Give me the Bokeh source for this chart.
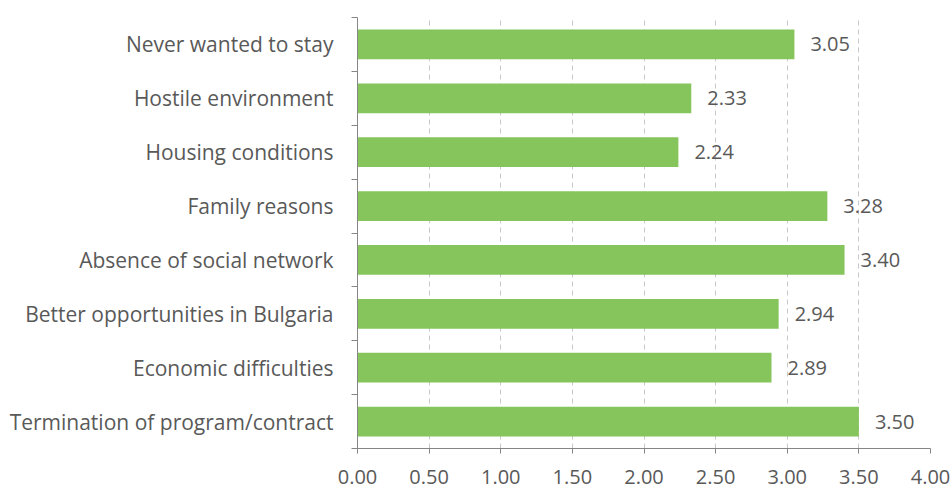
from bokeh.plotting import figure
from bokeh.models import ColumnDataSource, FixedTicker, Range1d, LinearAxis, Grid
from bokeh.embed import file_html
from bokeh.resources import INLINE
from bokeh.core.properties import value

categories = [
    "Termination of program/contract",
    "Economic difficulties",
    "Better opportunities in Bulgaria",
    "Absence of social network",
    "Family reasons",
    "Housing conditions",
    "Hostile environment",
    "Never wanted to stay",
]
scores = [3.50, 2.89, 2.94, 3.40, 3.28, 2.24, 2.33, 3.05]
x_ticks = [0.0, 0.5, 1.0, 1.5, 2.0, 2.5, 3.0, 3.5, 4.0]

FONT = "Open Sans"
TXT = "#595959"
AX = "#868686"

n = len(categories)
ypos = [i + 0.5 for i in range(n)]
src = ColumnDataSource(dict(
    y=ypos, v=scores, lab=[f"{s:.2f}" for s in scores],
))

p = figure(width=952, height=488, output_backend="svg", toolbar_location=None,
           x_range=Range1d(0, 4), y_range=Range1d(0, n),
           x_axis_type=None, y_axis_type=None,
           min_border_left=357, min_border_right=22, min_border_top=17, min_border_bottom=40)
p.outline_line_color = None
p.background_fill_color = "white"
p.border_fill_color = "white"

p.hbar(y="y", right="v", left=0, height=0.55, source=src,
       fill_color="#85C55B", line_color=None)
p.text(x="v", y="y", text="lab", source=src, x_offset=16,
       text_align="left", text_baseline="middle",
       text_font=value(FONT), text_font_size="20px", text_color=TXT)

xaxis = LinearAxis(ticker=FixedTicker(ticks=x_ticks),
                   major_label_overrides={t: f"{t:.2f}" for t in x_ticks})
xaxis.axis_line_color = AX
xaxis.major_tick_line_color = AX
xaxis.major_tick_out = 5
xaxis.major_tick_in = 0
xaxis.minor_tick_line_color = None
xaxis.major_label_text_font = FONT
xaxis.major_label_text_font_size = "20px"
xaxis.major_label_text_color = TXT
xaxis.major_label_standoff = 16
p.add_layout(xaxis, "below")

yaxis = LinearAxis(ticker=FixedTicker(ticks=ypos, minor_ticks=list(range(n + 1))),
                   major_label_overrides={y: c for y, c in zip(ypos, categories)})
yaxis.axis_line_color = AX
yaxis.major_tick_line_color = None
yaxis.minor_tick_line_color = AX
yaxis.minor_tick_out = 6
yaxis.minor_tick_in = 0
yaxis.major_label_text_font = FONT
yaxis.major_label_text_font_size = "21px"
yaxis.major_label_text_color = TXT
yaxis.major_label_standoff = 18
p.add_layout(yaxis, "left")

g = Grid(dimension=0, ticker=FixedTicker(ticks=x_ticks[1:]))
g.grid_line_color = "#C8C8C8"
g.grid_line_dash = "5 4"
g.grid_line_width = 1
p.add_layout(g)
p.renderers.insert(0, p.renderers.pop())

open("out.html", "w").write(file_html(p, INLINE))
